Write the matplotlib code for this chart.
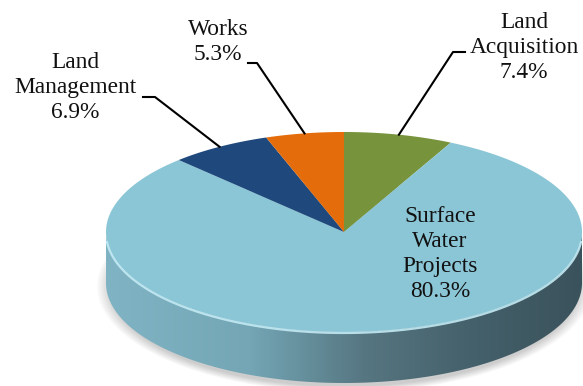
import numpy as np
import matplotlib.pyplot as plt
from matplotlib.patches import Polygon
from matplotlib.colors import LinearSegmentedColormap

# slices, clockwise from 12 o'clock
names = ['Land\nAcquisition', 'Surface\nWater\nProjects', 'Land\nManagement', 'Works']
shares = [7.4, 80.3, 6.9, 5.3]
colors = ['#77933C', '#8BC6D6', '#1F497D', '#E46C0A']

# label centres and leader elbows (pixels); None = label sits on the slice
label_pos = [(524, 47), (440, 254), (75, 88), (218, 42)]
elbows = [((465, 52), (453, 52)), None, ((143, 97), (155, 97)), ((248, 63), (257, 63))]

W, H = 583, 386
cx, cy, a, b, depth = 344, 232, 238, 100, 51

plt.rcParams['font.family'] = ['Liberation Serif', 'DejaVu Serif']

fig = plt.figure(figsize=(W / 100, H / 100), dpi=100)
ax = fig.add_axes([0, 0, 1, 1])
ax.set_xlim(0, W)
ax.set_ylim(H, 0)
ax.axis('off')


def rim(theta, dy=0.0):
    t = np.radians(theta)
    return cx + a * np.sin(t), cy - b * np.cos(t) + dy


# soft shadow under the base
yy, xx = np.mgrid[0:H, 0:W]
r = np.sqrt(((xx - cx) / (a + 3)) ** 2 + ((yy - (cy + depth + 3)) / (b + 3)) ** 2)
shadow = np.clip((1.03 - r) / 0.06, 0, 1) * 0.35
rgba = np.zeros((H, W, 4))
rgba[..., :3] = 0.45
rgba[..., 3] = shadow
ax.imshow(rgba, extent=(0, W, H, 0), zorder=0, interpolation='bilinear')

# front wall of the disc with a left-to-right shading
front = np.linspace(90, 270, 181)
tx, ty = rim(front)
bx, by = rim(front[::-1], depth)
wall = Polygon(np.column_stack([np.r_[tx, bx], np.r_[ty, by]]), closed=True,
               facecolor='none', edgecolor='none')
ax.add_patch(wall)
side_cmap = LinearSegmentedColormap.from_list(
    'side', [(0, '#80B4C4'), (0.3, '#74A6B5'), (0.55, '#557580'),
             (0.78, '#44606A'), (1, '#3A525B')])
grad = ax.imshow(np.linspace(0, 1, 256)[None, :], cmap=side_cmap, aspect='auto',
                 extent=(cx - a, cx + a, cy + b + depth, cy), zorder=1)
grad.set_clip_path(wall)

# top face slices
fracs = np.array(shares) / sum(shares)
edges = np.r_[0, np.cumsum(fracs)] * 360
mids = []
for i, col in enumerate(colors):
    t = np.linspace(edges[i], edges[i + 1], 200)
    px, py = rim(t)
    poly = Polygon(np.column_stack([np.r_[cx, px], np.r_[cy, py]]), closed=True,
                   facecolor=col, edgecolor='none', zorder=2)
    ax.add_patch(poly)
    mids.append((edges[i] + edges[i + 1]) / 2)

# light rim along the front edge of the top
ex, ey = rim(np.linspace(95, 265, 200), 1)
ax.plot(ex, ey, color='#C3EAF4', lw=1.6, alpha=0.9, zorder=3, solid_capstyle='round')

# labels and leader lines
for name, share, pos, elb, mid in zip(names, shares, label_pos, elbows, mids):
    ax.text(pos[0], pos[1], f'{name}\n{share}%', ha='center', va='center',
            fontsize=16.8, linespacing=1.25, color='#111111', zorder=5)
    if elb is not None:
        ax_, ay_ = rim(mid)
        ax.plot([elb[0][0], elb[1][0], ax_], [elb[0][1], elb[1][1], ay_],
                color='black', lw=1.5, zorder=4)

fig.savefig('out.png', dpi=100)
